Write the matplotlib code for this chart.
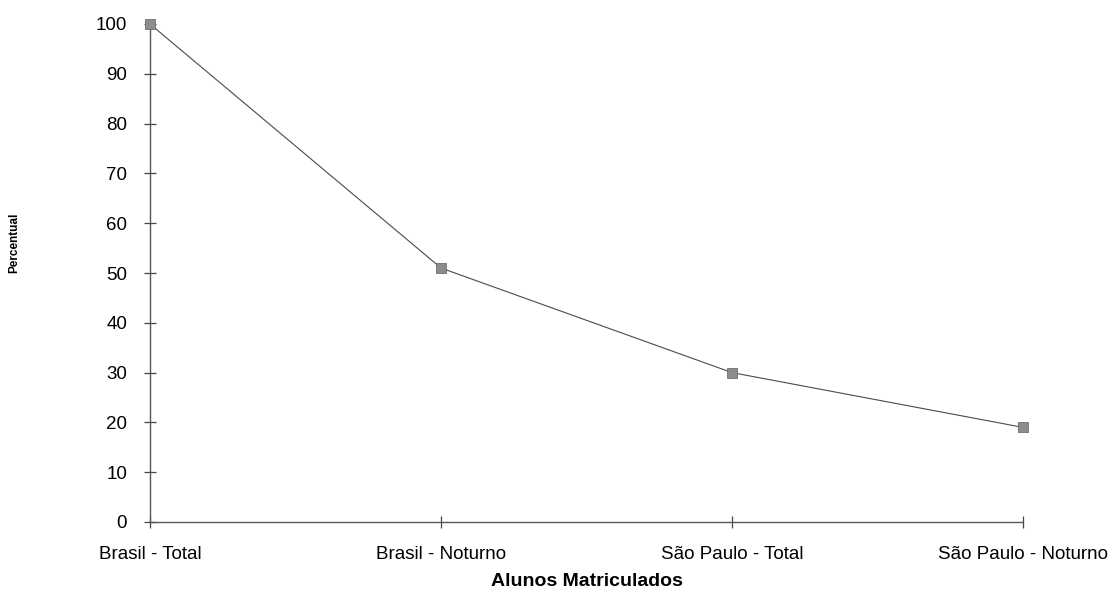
import matplotlib
matplotlib.use("Agg")
import matplotlib.pyplot as plt

# DATA
categorias = ["Brasil - Total", "Brasil - Noturno", "São Paulo - Total", "São Paulo - Noturno"]
percentual = [100, 51, 30, 19]
y_ticks = [0, 10, 20, 30, 40, 50, 60, 70, 80, 90, 100]

plt.rcParams['font.family'] = ['Liberation Sans', 'DejaVu Sans']

fig = plt.figure(figsize=(11.16, 5.97), dpi=100)
ax = fig.add_axes([150 / 1116, 1 - 522 / 597, 873 / 1116, 498 / 597])

x = list(range(len(categorias)))
ax.plot(x, percentual, '-', color='#4a4a4a', lw=0.8, marker='s', markersize=7,
        markerfacecolor='#8c8c8c', markeredgecolor='#6e6e6e', markeredgewidth=0.6,
        clip_on=False, zorder=3)

ax.set_xlim(0, len(categorias) - 1)
ax.set_ylim(0, 100)
ax.set_xticks(x)
ax.set_xticklabels(categorias, fontsize=13.5)
ax.set_yticks(y_ticks)
ax.set_yticklabels([str(v) for v in y_ticks], fontsize=13.5)

for s in ['top', 'right']:
    ax.spines[s].set_visible(False)
for s in ['left', 'bottom']:
    ax.spines[s].set_color('#555555')
    ax.spines[s].set_linewidth(1.0)

ax.tick_params(axis='y', direction='inout', length=9, width=0.9, color='#444444', pad=12)
ax.tick_params(axis='x', direction='inout', length=9, width=0.9, color='#444444', pad=13)

ax.set_xlabel("Alunos Matriculados", fontsize=14, fontweight='bold', va='center')
ax.xaxis.set_label_coords(0.5, -0.12)
ax.set_ylabel("Percentual", fontsize=8.5, fontweight='bold', va='center')
ax.yaxis.set_label_coords(-0.155, 0.56)

fig.savefig("out.png", dpi=100)
